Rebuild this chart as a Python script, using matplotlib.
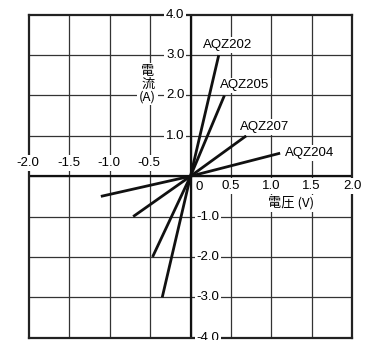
import numpy as np
import matplotlib.pyplot as plt

plt.rcParams['font.family'] = ['Liberation Sans', 'Noto Sans CJK JP', 'DejaVu Sans']

# data (volt, ampere)
names = ['AQZ202', 'AQZ205', 'AQZ207', 'AQZ204']
v_pos = [0.35, 0.42, 0.69, 1.11]
i_pos = [3.0, 2.0, 1.0, 0.57]
v_neg = [-0.35, -0.47, -0.71, -1.11]
i_neg = [-3.0, -2.0, -1.0, -0.5]

x_ticks = [-2.0, -1.5, -1.0, -0.5, 0.5, 1.0, 1.5, 2.0]
y_ticks = [-4.0, -3.0, -2.0, -1.0, 1.0, 2.0, 3.0, 4.0]

# label offsets in pixels (left edge, vertical centre) from the upper end of each line
lab_off = [(-16, 10), (-4, 10), (-6, 9), (5, 0)]

fig = plt.figure(figsize=(3.76, 3.40), dpi=100)
ax = fig.add_axes([29 / 376, 2.3 / 340, 323 / 376, 323 / 340])
ax.set_xlim(-2, 2)
ax.set_ylim(-4, 4)
ax.set_xticks([])
ax.set_yticks([])
for s in ax.spines.values():
    s.set_linewidth(1.6)
    s.set_color('#222222')

for x in np.arange(-1.5, 2.0, 0.5):
    ax.axvline(x, color='#333333', lw=0.9, zorder=1)
for y in np.arange(-3, 4, 1.0):
    ax.axhline(y, color='#333333', lw=0.9, zorder=1)
ax.axvline(0, color='#111111', lw=1.6, zorder=1.5)
ax.axhline(0, color='#111111', lw=1.6, zorder=1.5)

box = dict(facecolor='white', edgecolor='none', pad=1.2)
fs = 9.5

for v1, i1, v2, i2 in zip(v_pos, i_pos, v_neg, i_neg):
    ax.plot([v2, 0, v1], [i2, 0, i1], color='#111111', lw=2, zorder=2,
            solid_capstyle='butt')

for n, v1, i1, off in zip(names, v_pos, i_pos, lab_off):
    ax.annotate(n, (v1, i1), xytext=off, textcoords='offset pixels',
                ha='left', va='center', fontsize=fs, bbox=box, zorder=4)

for x in x_ticks:
    if x < 0:
        ax.annotate(f'{x:.1f}', (x, 0), xytext=(-1, 13), textcoords='offset pixels',
                    ha='center', va='center', fontsize=fs, bbox=box, zorder=4,
                    annotation_clip=False)
    else:
        ax.annotate(f'{x:.1f}', (x, 0), xytext=(0, -10), textcoords='offset pixels',
                    ha='center', va='center', fontsize=fs, bbox=box, zorder=4,
                    annotation_clip=False)
ax.annotate('0', (0, 0), xytext=(9, -11), textcoords='offset pixels',
            ha='center', va='center', fontsize=fs, zorder=4)

for y in y_ticks:
    if y > 0:
        ax.annotate(f'{y:.1f}', (0, y), xytext=(-6, 0), textcoords='offset pixels',
                    ha='right', va='center', fontsize=fs, bbox=box, zorder=4,
                    annotation_clip=False)
    else:
        ax.annotate(f'{y:.1f}', (0, y), xytext=(6, 0), textcoords='offset pixels',
                    ha='left', va='center', fontsize=fs, bbox=box, zorder=4,
                    annotation_clip=False)

jp = ['Noto Sans CJK JP', 'Liberation Sans']
ax.text(-0.53, 2.28, '電\n流\n(A)', ha='center', va='center', fontsize=fs,
        family=jp, linespacing=1.0, bbox=box, zorder=4)
ax.text(1.25, -0.67, '電圧 (V)', ha='center', va='center', fontsize=fs,
        family=jp, bbox=box, zorder=4)

fig.savefig('out.png', dpi=100)
